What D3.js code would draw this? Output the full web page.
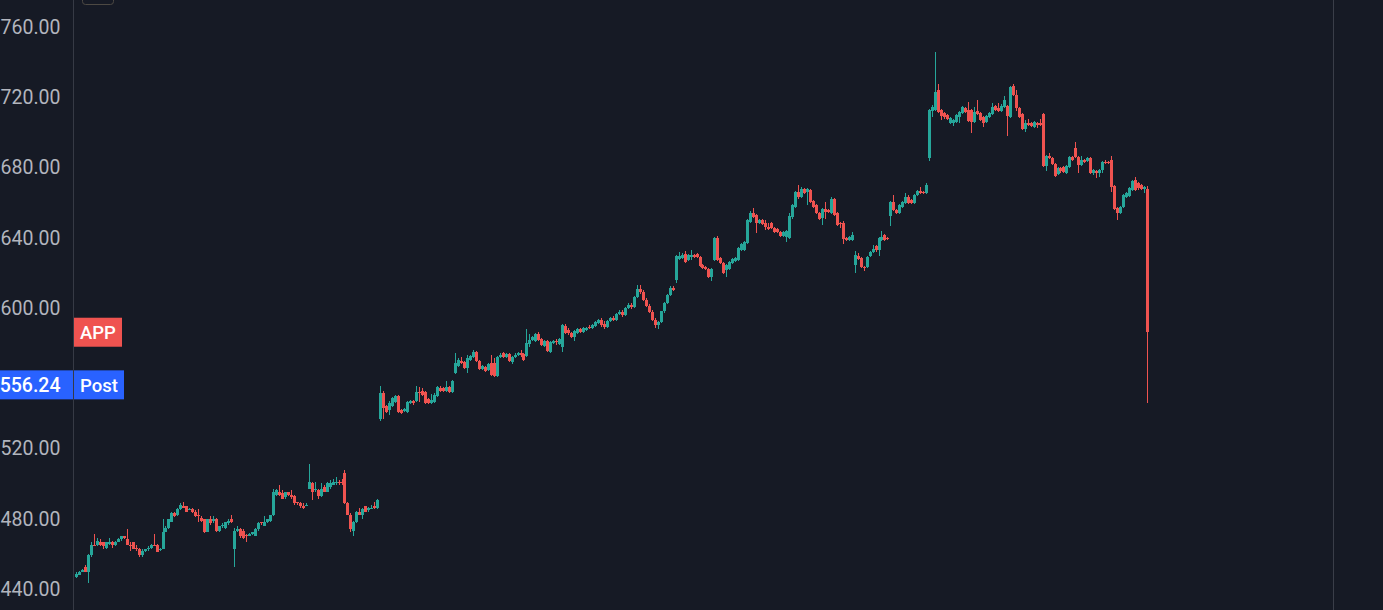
<!DOCTYPE html>
<html><head><meta charset="utf-8">
<script src="https://cdn.jsdelivr.net/npm/d3@7"></script>
<style>html,body{margin:0;padding:0;background:#161a25;overflow:hidden}</style>
</head><body><svg id="c" width="1383" height="610"></svg>
<script>
const opens = [
447.1,448.2,449.9,452.8,449.9,459.1,465.3,464.8,467.0,466.5,
463.6,465.9,466.5,464.8,467.0,468.2,469.9,468.7,465.3,466.5,
463.6,463.0,459.1,461.9,462.5,463.6,464.8,465.3,462.5,463.0,
472.7,475.0,478.4,483.0,481.9,485.3,487.5,487.0,485.3,485.3,
484.1,482.4,480.7,479.6,472.7,479.6,479.0,479.6,473.3,476.1,
475.0,477.3,479.6,463.0,473.3,474.4,473.3,471.0,470.4,471.6,
470.4,473.9,477.9,476.1,477.9,479.0,481.9,493.3,495.5,494.4,
492.1,495.0,493.3,492.7,489.3,488.7,487.5,487.5,497.2,500.1,
496.1,496.1,492.7,497.8,495.5,497.8,499.5,500.1,501.2,500.7,
505.8,488.7,482.4,473.3,477.9,484.1,482.4,487.0,484.7,485.8,
487.0,486.4,
536.6,551.4,544.0,541.7,544.0,546.3,549.7,541.7,541.1,540.6,
545.7,546.8,546.8,552.0,552.5,552.0,548.0,545.7,546.3,549.7,
554.2,554.2,552.5,554.8,552.0,562.8,566.8,569.6,569.1,565.6,
570.2,571.9,574.8,569.6,565.1,566.2,564.5,568.5,568.5,561.1,
571.9,574.2,571.9,573.6,569.1,571.9,573.1,574.2,573.6,572.5,
579.3,581.6,581.0,585.0,582.2,578.2,581.0,574.8,579.9,581.0,
579.3,577.6,589.6,587.3,585.6,583.3,585.6,587.9,586.2,587.3,
589.0,588.4,589.6,591.3,
593.0,590.7,589.0,592.4,594.1,593.0,596.4,597.6,595.9,599.8,601.6,600.4,606.1,610.7,609.0,604.4,601.0,597.6,593.0,590.1,591.9,598.1,602.7,607.2,611.2,
615.8,627.8,628.3,630.6,627.2,628.9,630.1,630.6,
628.9,624.4,623.2,622.1,617.5,627.2,639.7,628.3,625.5,621.5,622.1,625.5,626.6,627.2,632.9,
632.9,636.9,648.9,654.0,652.8,648.3,650.0,648.3,
646.0,
648.3,645.4,644.9,643.2,640.9,640.3,639.7,651.7,657.4,666.0,
663.1,667.7,666.0,667.1,660.8,658.5,654.0,651.1,656.3,655.7,654.0,662.0,654.0,648.3,
648.3,639.7,
638.6,638.6,624.4,629.5,628.3,623.2,623.2,629.5,631.8,
635.2,632.9,638.6,641.5,639.7,652.3,660.3,655.7,654.0,657.4,659.7,663.1,661.4,659.7,664.3,666.5,666.0,665.4,
685.3,712.1,712.7,724.1,712.7,711.0,709.9,
705.3,705.3,705.9,708.7,
711.0,713.8,712.7,712.7,705.9,712.1,711.0,708.7,705.9,708.7,710.4,
715.0,713.8,712.1,714.4,715.0,708.7,726.4,721.3,713.8,710.4,701.9,705.3,
705.3,703.0,705.3,
705.3,710.4,680.8,686.5,
685.3,681.9,676.2,679.6,680.2,676.8,
680.2,685.9,691.0,685.9,681.3,684.2,
683.6,685.3,676.8,677.9,676.8,678.5,683.1,
683.1,684.2,669.4,656.8,654.0,657.4,663.1,663.7,667.1,672.8,671.1,670.0,667.7,667.7
];
const highs = [
449.4,450.5,451.6,453.9,460.2,466.5,471.6,469.3,468.7,467.0,
467.0,469.3,467.6,467.6,469.3,470.4,470.4,474.4,466.5,467.0,
465.3,463.6,462.5,463.0,464.2,465.9,471.6,465.9,463.6,479.6,
475.6,480.1,483.6,483.6,486.4,488.7,489.3,487.5,486.4,486.4,
484.7,485.3,481.3,480.1,480.1,481.3,481.3,480.7,476.1,477.3,
478.4,479.6,481.9,475.0,475.6,475.0,473.9,471.6,472.0,472.7,
475.0,477.9,478.4,481.3,480.1,482.4,496.7,496.7,499.5,496.1,
495.5,495.5,496.1,493.3,489.8,489.3,488.7,488.7,510.9,500.7,
500.7,496.7,500.1,499.0,501.2,501.8,502.4,503.5,501.8,502.4,
507.5,489.3,483.0,479.0,484.6,486.4,486.4,487.5,486.9,488.1,
489.3,491.0,
555.4,552.5,544.5,546.8,549.1,550.3,550.3,542.3,542.8,546.8,
547.4,547.4,555.4,554.8,554.2,552.5,548.5,550.8,551.4,555.4,
555.4,554.8,558.2,555.4,558.8,574.2,571.3,571.9,569.6,573.1,
573.1,575.9,575.3,570.2,567.3,566.8,568.5,573.1,571.3,572.5,
574.2,574.8,574.2,574.2,572.5,574.2,574.8,575.9,574.2,587.9,
585.0,583.9,585.6,586.2,582.7,581.6,581.6,581.0,581.6,582.2,
582.7,590.7,590.7,588.4,586.2,587.3,588.4,588.4,589.0,589.0,
590.1,590.7,592.4,593.6,
594.1,592.4,593.0,594.7,595.3,597.0,598.7,598.7,600.4,602.7,602.7,606.7,613.0,613.0,610.1,605.5,602.1,598.7,594.1,592.4,598.1,603.3,607.8,612.4,612.4,
630.1,631.8,631.2,632.3,630.6,632.9,630.6,631.2,
629.5,624.9,623.8,622.6,622.6,640.3,640.9,628.9,626.1,625.0,626.6,628.3,628.9,634.6,636.9,
638.0,650.6,655.1,656.8,653.4,650.6,650.6,650.0,
648.3,
648.9,646.0,645.4,643.7,643.7,644.3,654.0,659.1,666.5,669.9,
668.8,668.2,668.2,667.7,661.4,659.1,654.6,656.8,660.3,656.3,663.1,662.5,654.6,648.9,
649.4,640.3,
640.9,643.2,632.3,631.2,628.9,623.8,629.5,632.3,635.7,
635.7,640.3,643.7,642.0,640.3,660.8,664.3,656.3,659.1,660.8,665.4,664.3,662.0,664.8,667.1,668.8,666.5,671.1,
713.3,715.6,745.8,727.5,713.3,711.6,710.4,
708.7,707.6,710.4,712.1,
715.0,714.4,717.3,713.3,714.4,718.4,711.6,709.3,709.9,711.6,716.7,
715.6,716.7,716.1,720.7,715.6,726.4,727.5,724.1,714.4,711.0,707.0,707.6,
705.9,706.4,705.9,
707.6,711.0,687.0,688.2,
685.9,682.5,680.2,680.2,680.8,681.3,
686.5,686.5,694.5,686.5,686.5,684.8,
685.9,685.9,679.1,678.5,679.1,683.6,684.2,
683.6,686.5,669.9,657.4,658.0,664.8,666.0,668.8,672.8,674.5,671.7,670.6,669.4,669.4
];
const lows = [
446.0,447.7,449.4,449.4,443.7,458.5,464.2,464.2,464.2,463.0,
463.0,465.3,463.6,464.2,466.5,467.6,468.7,464.8,461.9,462.5,
461.9,458.5,458.5,461.3,461.9,463.0,464.2,460.8,461.9,462.5,
472.2,474.4,477.9,480.8,481.3,484.7,486.0,483.6,484.7,483.0,
481.0,477.9,478.4,471.8,472.2,476.7,477.3,472.7,472.7,475.0,
474.4,476.7,477.3,452.8,472.7,469.3,468.7,467.0,469.9,471.0,
469.9,473.3,476.7,475.6,477.3,478.4,481.3,492.7,492.7,491.0,
491.5,492.7,491.5,488.1,488.1,486.4,485.8,487.0,496.7,490.4,
495.5,491.5,492.1,495.0,495.0,497.2,499.0,499.5,499.5,499.0,
488.2,482.0,472.2,469.9,477.3,482.0,479.6,483.6,484.1,485.3,
485.8,485.8,
535.4,536.6,540.0,538.9,543.4,545.7,540.0,539.4,540.6,540.0,
545.1,544.5,546.3,546.3,549.7,545.1,545.1,545.1,545.7,549.1,
552.0,552.0,552.0,551.4,551.4,562.2,566.2,567.9,565.1,562.8,
569.6,571.3,569.1,564.5,564.5,563.4,563.9,561.1,560.5,560.5,
571.3,571.3,571.3,569.1,567.9,571.3,572.5,571.9,569.6,571.9,
577.6,581.0,580.5,581.0,578.2,577.6,574.8,574.2,579.3,578.7,
578.7,574.8,585.0,584.5,582.7,581.0,585.0,585.6,585.6,586.7,
587.9,587.9,589.0,590.7,
589.0,587.9,588.4,591.9,592.4,592.4,595.9,594.7,595.3,599.3,599.3,599.8,605.5,607.8,603.8,600.4,597.0,592.4,588.4,587.9,591.3,597.0,602.1,606.7,609.6,
614.1,627.2,627.8,625.5,626.6,627.2,628.3,628.3,
623.2,622.1,621.5,617.0,615.2,626.6,626.6,624.9,619.2,617.5,621.5,624.9,626.1,626.6,632.3,
632.3,636.3,648.3,651.1,642.6,647.7,647.1,644.3,
644.3,
644.9,642.6,642.6,640.3,640.3,637.5,639.2,650.6,656.8,662.0,
662.5,664.8,658.5,659.7,656.8,653.4,650.0,647.1,650.6,654.0,653.4,652.3,646.6,645.4,
636.3,638.0,
638.0,638.0,619.8,627.2,622.6,620.9,622.6,628.9,631.2,
631.8,629.5,638.0,638.0,638.6,646.6,655.1,653.4,653.4,656.8,659.1,659.1,659.1,659.1,663.7,664.8,664.8,664.8,
683.6,708.7,712.1,711.0,707.0,707.6,707.0,
704.7,703.6,705.3,705.3,
710.4,711.0,705.9,699.6,705.3,709.9,706.4,703.0,705.3,708.1,709.9,
712.1,711.6,711.6,713.8,697.9,708.1,720.7,712.1,708.1,701.3,700.2,703.6,
703.0,702.4,702.4,
703.6,680.2,677.9,684.8,
681.3,674.5,675.7,676.8,676.8,676.2,
679.6,683.6,685.3,676.8,680.8,682.5,
683.1,676.2,675.7,674.0,674.5,676.8,681.9,
681.9,666.0,655.7,650.0,653.4,656.8,662.5,663.1,666.5,666.5,667.1,667.1,665.4,545.7
];
const closes = [
448.8,449.9,451.1,449.9,459.6,465.3,464.8,467.6,465.3,464.2,
466.5,466.5,465.3,467.0,468.7,469.9,469.3,465.3,464.8,463.0,
463.0,459.1,461.9,462.5,463.6,465.3,464.5,461.3,463.0,472.7,
475.0,479.6,483.0,481.3,485.8,488.1,486.4,484.1,485.8,483.6,
481.3,481.9,479.0,472.2,479.6,477.3,480.1,473.3,475.6,476.7,
477.9,479.0,477.9,473.3,474.4,469.9,469.3,469.9,471.6,472.2,
474.4,477.3,477.3,477.9,479.6,481.9,495.5,496.1,493.3,491.5,
495.0,493.3,492.1,488.7,488.7,487.0,486.4,488.1,500.7,495.5,
497.2,492.7,497.2,495.5,500.1,500.1,501.2,501.2,500.1,500.1,
488.7,482.4,473.9,478.4,484.1,482.4,485.8,484.1,486.4,486.4,
486.4,490.4,
551.4,542.8,540.6,545.7,548.5,549.7,540.6,540.0,542.3,546.3,
546.8,545.7,552.0,551.4,550.3,545.7,545.7,547.4,550.3,554.8,
552.5,552.5,554.8,552.0,558.2,568.5,570.2,568.5,565.6,571.3,
572.5,574.8,569.6,565.1,566.8,563.9,567.9,561.7,561.1,571.9,
573.1,571.9,573.6,569.6,571.9,573.1,574.2,573.1,570.2,579.9,
581.6,583.3,585.0,581.6,578.7,581.0,575.3,580.5,581.0,580.5,
582.2,590.1,585.6,585.6,583.3,586.7,587.9,586.2,588.4,588.4,
588.4,590.1,591.9,593.0,
590.1,589.0,592.4,594.1,593.0,596.4,597.6,595.9,599.8,601.6,600.4,606.1,610.7,609.0,604.4,601.0,597.6,593.0,590.1,591.9,598.1,602.7,607.2,611.2,610.1,
629.5,629.5,630.1,626.1,630.1,630.1,628.9,628.9,
623.8,622.6,622.1,617.5,622.1,639.7,627.2,625.5,619.8,624.4,626.1,627.8,628.3,634.0,636.3,
637.5,650.0,654.0,651.7,648.3,650.0,647.7,646.0,
644.9,
645.4,643.2,643.2,640.9,643.2,643.7,652.3,658.5,666.0,663.1,
667.7,665.4,667.7,660.3,657.4,654.0,650.6,656.3,654.6,654.6,662.0,652.8,647.1,647.7,
639.2,638.6,
640.3,641.5,630.1,627.8,623.2,622.6,628.9,631.8,633.5,
632.9,639.7,640.3,638.6,639.2,660.3,655.7,654.0,658.5,660.3,663.1,659.7,659.7,664.3,666.5,665.4,665.4,670.0,
712.7,714.4,723.0,711.6,709.3,708.7,707.6,
708.1,707.0,709.9,711.6,
714.4,711.6,706.4,705.9,711.6,710.4,707.0,705.3,709.3,711.0,714.4,
712.7,712.1,715.0,718.4,709.3,725.8,721.3,713.8,708.7,701.9,705.3,704.2,
703.6,705.9,704.2,
704.2,680.8,686.5,685.3,
681.9,675.1,679.6,677.9,677.4,680.8,
685.9,684.2,685.9,681.3,684.2,683.1,
685.3,676.8,678.5,676.8,678.5,683.1,682.5,
682.5,668.8,656.3,654.0,657.4,664.3,665.4,668.2,672.2,667.1,668.2,667.7,668.8,586.2
];
const tickValues = [760, 720, 680, 640, 600, 520, 480, 440];
const symbolName = "APP";
const postPrice = 556.24;
const postName = "Post";

const W = 1383, H = 610;
const N = closes.length;
const UP = "#26a69a", DOWN = "#ef5350";
const svg = d3.select("#c");
svg.append("rect").attr("width", W).attr("height", H).attr("fill", "#161a25");

const y = d3.scaleLinear().domain([440, 760]).range([589, 27]);
const x = d3.scaleLinear().domain([0, N - 1]).range([76.5, 1147.5]);

// frame lines
svg.append("rect").attr("x", 73).attr("y", 0).attr("width", 1).attr("height", H).attr("fill", "#363a45");
svg.append("rect").attr("x", 1333).attr("y", 0).attr("width", 1).attr("height", H).attr("fill", "#3a3e49");
svg.append("rect").attr("x", 82.5).attr("y", -6).attr("width", 31).attr("height", 10.5).attr("rx", 3)
  .attr("fill", "none").attr("stroke", "#4d4943");

// axis
const axis = d3.axisLeft(y).tickValues(tickValues).tickFormat(d3.format(".2f")).tickSize(0).tickPadding(0);
const ag = svg.append("g").attr("transform", "translate(60.5,0)").call(axis);
ag.select(".domain").remove();
ag.selectAll("text").attr("fill", "#b2b5be").attr("font-family", "Roboto, sans-serif").attr("font-size", "19.5px");

// candles
const idx = d3.range(N);
const left = i => Math.round(x(i) - 1.5);
const col = i => closes[i] >= opens[i] ? UP : DOWN;
const g = svg.append("g").attr("shape-rendering", "crispEdges");
g.selectAll("rect.w").data(idx).join("rect").attr("class", "w")
  .attr("x", i => left(i) + 1).attr("width", 1)
  .attr("y", i => y(highs[i]))
  .attr("height", i => Math.max(1, y(lows[i]) - y(highs[i])))
  .attr("fill", col);
g.selectAll("rect.b").data(idx).join("rect").attr("class", "b")
  .attr("x", i => left(i)).attr("width", 3)
  .attr("y", i => y(Math.max(opens[i], closes[i])))
  .attr("height", i => Math.max(1, Math.abs(y(opens[i]) - y(closes[i]))))
  .attr("fill", col);

// labels
const lastY = y(closes[N - 1]);
svg.append("rect").attr("x", 74).attr("y", lastY - 14.5).attr("width", 48).attr("height", 29).attr("fill", DOWN);
svg.append("text").attr("x", 98).attr("y", lastY).attr("dy", "0.36em").attr("text-anchor", "middle")
  .attr("fill", "#ffffff").attr("font-family", "Roboto, sans-serif").attr("font-size", "18.5px").attr("font-weight", 500)
  .text(symbolName);
const py = y(postPrice);
svg.append("rect").attr("x", 0).attr("y", py - 14.5).attr("width", 73).attr("height", 29).attr("fill", "#2962ff");
svg.append("rect").attr("x", 74).attr("y", py - 14.5).attr("width", 50).attr("height", 29).attr("fill", "#2962ff");
svg.append("text").attr("x", 60.5).attr("y", py).attr("dy", "0.36em").attr("text-anchor", "end")
  .attr("fill", "#ffffff").attr("font-family", "Roboto, sans-serif").attr("font-size", "19.5px").attr("font-weight", 500)
  .text(d3.format(".2f")(postPrice));
svg.append("text").attr("x", 99).attr("y", py).attr("dy", "0.36em").attr("text-anchor", "middle")
  .attr("fill", "#ffffff").attr("font-family", "Roboto, sans-serif").attr("font-size", "18.5px").attr("font-weight", 500)
  .text(postName);
</script></body></html>
